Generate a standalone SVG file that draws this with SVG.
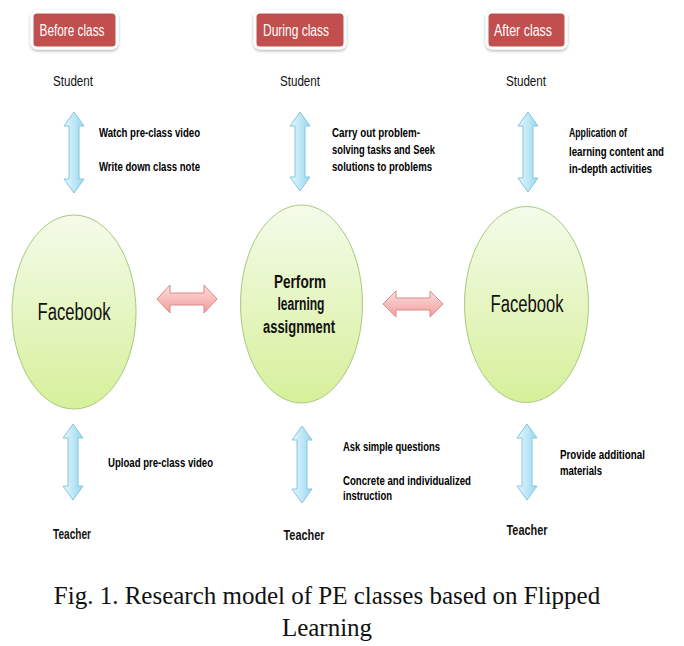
<svg xmlns="http://www.w3.org/2000/svg" width="684" height="646" viewBox="0 0 684 646">
<defs>
<linearGradient id="gEll" x1="0" y1="0" x2="0" y2="1">
<stop offset="0" stop-color="#f4fbea"/>
<stop offset="1" stop-color="#d6f09a"/>
</linearGradient>
<linearGradient id="gBlue" x1="0" y1="0" x2="1" y2="0">
<stop offset="0" stop-color="#e6f6fd"/>
<stop offset="1" stop-color="#98d8f0"/>
</linearGradient>
<linearGradient id="gPink" x1="0" y1="0" x2="0" y2="1">
<stop offset="0" stop-color="#fde0df"/>
<stop offset="1" stop-color="#f19c9a"/>
</linearGradient>
<filter id="sh" x="-20%" y="-20%" width="140%" height="160%">
<feDropShadow dx="0" dy="1.5" stdDeviation="1.5" flood-color="#000" flood-opacity="0.3"/>
</filter>
</defs>
<style>
.hdr{fill:#c0504d;stroke:#fff;stroke-width:3;filter:url(#sh)}
.ht{font-family:"Liberation Sans",Arial,sans-serif;font-size:16px;fill:#fff;text-anchor:middle}
.ell{fill:url(#gEll);stroke:#a9c97e;stroke-width:1}
.ba{fill:url(#gBlue);stroke:#86c6de;stroke-width:1}
.pa{fill:url(#gPink);stroke:#d98a88;stroke-width:1}
.lb{font-family:"Liberation Sans",Arial,sans-serif;font-size:13px;fill:#000;font-weight:bold}
.who{font-family:"Liberation Sans",Arial,sans-serif;font-size:14px;fill:#111;text-anchor:middle}
.fb{font-family:"Liberation Sans",Arial,sans-serif;font-size:23px;fill:#111;text-anchor:middle}
.pf{font-family:"Liberation Sans",Arial,sans-serif;font-size:18px;font-weight:bold;fill:#111;text-anchor:middle}
.cap{font-family:"Liberation Serif","Times New Roman",serif;font-size:25px;fill:#111;text-anchor:middle}
</style>
<rect width="684" height="646" fill="#fff"/>

<g id="hdr-before"><rect class="hdr" x="32" y="12" width="85" height="36" rx="5"/><text class="ht" x="72" y="36" textLength="65" lengthAdjust="spacingAndGlyphs">Before class</text></g>
<g id="hdr-during"><rect class="hdr" x="255" y="12" width="90" height="36" rx="5"/><text class="ht" x="296" y="36" textLength="66" lengthAdjust="spacingAndGlyphs">During class</text></g>
<g id="hdr-after"><rect class="hdr" x="487" y="12" width="79" height="36" rx="5"/><text class="ht" x="523" y="36" textLength="58" lengthAdjust="spacingAndGlyphs">After class</text></g>

<g id="student1"><text class="who" x="73" y="86" textLength="40" lengthAdjust="spacingAndGlyphs">Student</text></g>
<g id="student2"><text class="who" x="300" y="86" textLength="40" lengthAdjust="spacingAndGlyphs">Student</text></g>
<g id="student3"><text class="who" x="526" y="86" textLength="40" lengthAdjust="spacingAndGlyphs">Student</text></g>

<g id="fb1"><ellipse class="ell" cx="74" cy="312" rx="62" ry="97"/><text class="fb" x="74" y="320" textLength="73" lengthAdjust="spacingAndGlyphs">Facebook</text></g>
<g id="perform"><ellipse class="ell" cx="301.5" cy="304" rx="61" ry="99"/>
<text class="pf" x="300" y="288" textLength="52" lengthAdjust="spacingAndGlyphs">Perform</text>
<text class="pf" x="301" y="310" textLength="47" lengthAdjust="spacingAndGlyphs">learning</text>
<text class="pf" x="299" y="333" textLength="72" lengthAdjust="spacingAndGlyphs">assignment</text></g>
<g id="fb2"><ellipse class="ell" cx="526.5" cy="304.5" rx="62" ry="98"/><text class="fb" x="527" y="312" textLength="73" lengthAdjust="spacingAndGlyphs">Facebook</text></g>

<g id="teacher1"><text class="who" x="72" y="539" font-weight="bold" textLength="38" lengthAdjust="spacingAndGlyphs">Teacher</text></g>
<g id="teacher2"><text class="who" x="304" y="540" font-weight="bold" textLength="41" lengthAdjust="spacingAndGlyphs">Teacher</text></g>
<g id="teacher3"><text class="who" x="527" y="535" font-weight="bold" textLength="41" lengthAdjust="spacingAndGlyphs">Teacher</text></g>

<g id="connectors">
<path class="ba" d="M74,112 L84,126 L79,126 L79,179 L84,179 L74,193 L64,179 L69,179 L69,126 L64,126 Z"/>
<path class="ba" d="M300,112 L310,126 L305,126 L305,177 L310,177 L300,191 L290,177 L295,177 L295,126 L290,126 Z"/>
<path class="ba" d="M528,112 L538,126 L533,126 L533,178 L538,178 L528,192 L518,178 L523,178 L523,126 L518,126 Z"/>
<path class="ba" d="M73,424 L83,438 L78,438 L78,486 L83,486 L73,500 L63,486 L68,486 L68,438 L63,438 Z"/>
<path class="ba" d="M302,426 L312,440 L307,440 L307,489 L312,489 L302,503 L292,489 L297,489 L297,440 L292,440 Z"/>
<path class="ba" d="M527,424 L537,438 L532,438 L532,486 L537,486 L527,500 L517,486 L522,486 L522,438 L517,438 Z"/>
<path class="pa" d="M157,299 L170,285 L170,293 L204,293 L204,285 L217,299 L204,313 L204,305 L170,305 L170,313 Z"/>
<path class="pa" d="M383,304 L396,291 L396,298 L430,298 L430,291 L443,304 L430,317 L430,310 L396,310 L396,317 Z"/>
</g>

<g id="labels">
<text class="lb" x="99" y="137" textLength="101" lengthAdjust="spacingAndGlyphs">Watch pre-class video</text>
<text class="lb" x="99" y="171" textLength="101" lengthAdjust="spacingAndGlyphs">Write down class note</text>
<text class="lb" x="332" y="137" textLength="88" lengthAdjust="spacingAndGlyphs">Carry out problem-</text>
<text class="lb" x="332" y="154" textLength="103" lengthAdjust="spacingAndGlyphs">solving tasks and Seek</text>
<text class="lb" x="332" y="171" textLength="100" lengthAdjust="spacingAndGlyphs">solutions to problems</text>
<text class="lb" x="569" y="137" textLength="58" lengthAdjust="spacingAndGlyphs">Application of</text>
<text class="lb" x="569" y="156" textLength="95" lengthAdjust="spacingAndGlyphs">learning content and</text>
<text class="lb" x="569" y="173" textLength="83" lengthAdjust="spacingAndGlyphs">in-depth activities</text>
<text class="lb" x="108" y="467" textLength="105" lengthAdjust="spacingAndGlyphs">Upload pre-class video</text>
<text class="lb" x="343" y="451" textLength="97" lengthAdjust="spacingAndGlyphs">Ask simple questions</text>
<text class="lb" x="343" y="485" textLength="128" lengthAdjust="spacingAndGlyphs">Concrete and individualized</text>
<text class="lb" x="343" y="500" textLength="49" lengthAdjust="spacingAndGlyphs">instruction</text>
<text class="lb" x="560" y="459" textLength="85" lengthAdjust="spacingAndGlyphs">Provide additional</text>
<text class="lb" x="560" y="475" textLength="42" lengthAdjust="spacingAndGlyphs">materials</text>
</g>

<g id="caption">
<text class="cap" x="327" y="604">Fig. 1. Research model of PE classes based on Flipped</text>
<text class="cap" x="327" y="636">Learning</text>
</g>
</svg>
